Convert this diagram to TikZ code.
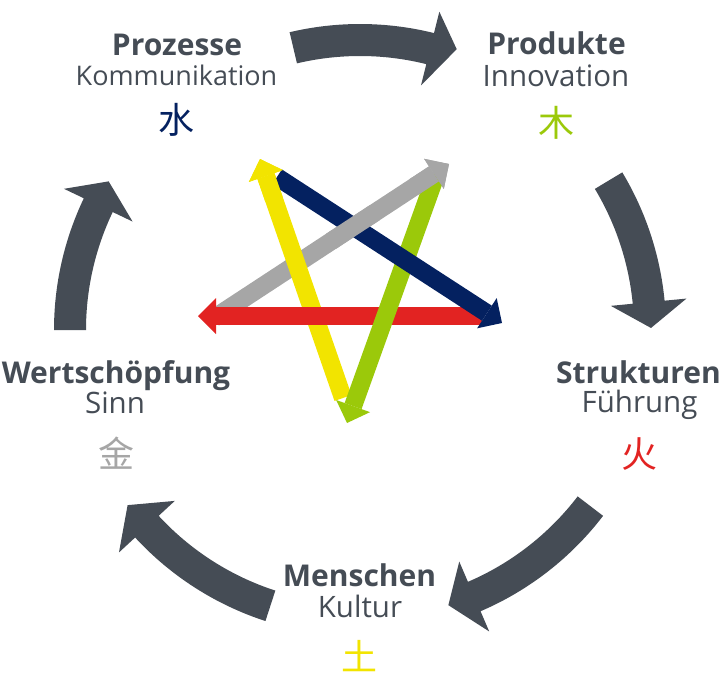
\documentclass[tikz,border=0pt]{standalone}
\usepackage{fontspec}
\setmainfont{Open Sans}
\newfontfamily\cjk{Noto Sans CJK SC}
\usetikzlibrary{arrows.meta,calc}
\definecolor{dk}{RGB}{69,76,85}
\definecolor{pblue}{RGB}{4,33,96}
\definecolor{pyellow}{RGB}{242,228,0}
\definecolor{pgreen}{RGB}{155,201,10}
\definecolor{pgray}{RGB}{166,166,166}
\definecolor{pred}{RGB}{226,35,34}
\newcommand\cyclearw[4]{%
  \fill[bigarr] ($(C)+(#1:306)$) arc[start angle=#1, end angle=#2, radius=306]
    -- ($(C)+(#2:328)$) -- ($(C)+(#3:#4)$) -- ($(C)+(#2:252)$)
    -- ($(C)+(#2:274)$) arc[start angle=#2, end angle=#1, radius=274] -- cycle;}
\begin{document}
\begin{tikzpicture}[x=1pt,y=-1pt,
  title/.style={font=\fontsize{30}{30}\selectfont\bfseries, text=dk, anchor=base, inner sep=0},
  sub/.style={font=\fontsize{29.5}{29.5}\selectfont, text=dk, anchor=base, inner sep=0},
  subsmall/.style={sub, font=\fontsize{27}{27}\selectfont},
  elem/.style={font=\cjk\fontsize{36}{36}\selectfont, anchor=center, inner sep=0},
  bigarr/.style={fill=dk},
  penta/.style={line width=18pt, -{Triangle[width=36pt 0,length=18pt 0,line width=0pt]}},
]
\useasboundingbox (0,0) rectangle (720,683);
\coordinate (C) at (360,330);

% cycle arrows
\cyclearw{-103.3}{-76}{-71}{297}
\cyclearw{-31}{-5.5}{-0.4}{291}
\cyclearw{37.4}{66.8}{72.2}{289}
\cyclearw{108}{137.3}{143}{291}
\cyclearw{180}{205.5}{210.6}{292}

% labels
\node[title] (t1) at (177,55) {Prozesse};
\node[subsmall] (s1) at (176.5,85) {Kommunikation};
\node[elem, text=pblue] (e1) at (176,120) {水};

\node[title] (t2) at (556.5,54) {Produkte};
\node[sub] (s2) at (556,86) {Innovation};
\node[elem, text=pgreen] (e2) at (556.5,123) {木};

\node[title] (t3) at (638.5,383) {Strukturen};
\node[sub] (s3) at (639.5,412) {Führung};
\node[elem, text=pred] (e3) at (639.5,454) {火};

\node[title] (t4) at (359.5,586) {Menschen};
\node[sub] (s4) at (360,617) {Kultur};
\node[elem, text=pyellow] (e4) at (359.5,656) {土};

\node[title] (t5) at (116,383) {Wertschöpfung};
\node[sub] (s5) at (115,413) {Sinn};
\node[elem, text=pgray] (e5) at (116,453) {金};

% pentagram
\coordinate (yT) at (343,398); \coordinate (yH) at (260,159);
\coordinate (bT) at (277,177); \coordinate (bH) at (502,323);
\coordinate (gT) at (214,318); \coordinate (gH) at (449,164);
\coordinate (nT) at (436,175); \coordinate (nH) at (347,423);
\coordinate (rT) at (482,316); \coordinate (rH) at (198,316);

\draw[penta, pgray] (gT) -- (gH);
\draw[penta, pyellow] (yT) -- (yH);
\draw[penta, pred] (rT) -- (rH);
\draw[penta, pgreen] (nT) -- (nH);
\draw[penta, pblue] (bT) -- (bH);
\begin{scope}
  \clip (270,178) circle (24);
  \draw[penta, pyellow] (yT) -- (yH);
\end{scope}
\begin{scope}
  \clip (353,227) circle (28);
  \draw[penta, pgray] (gT) -- (gH);
\end{scope}
\begin{scope}
  \clip (438,170) circle (30);
  \draw[penta, pgray] (gT) -- (gH);
\end{scope}
\end{tikzpicture}
\end{document}
